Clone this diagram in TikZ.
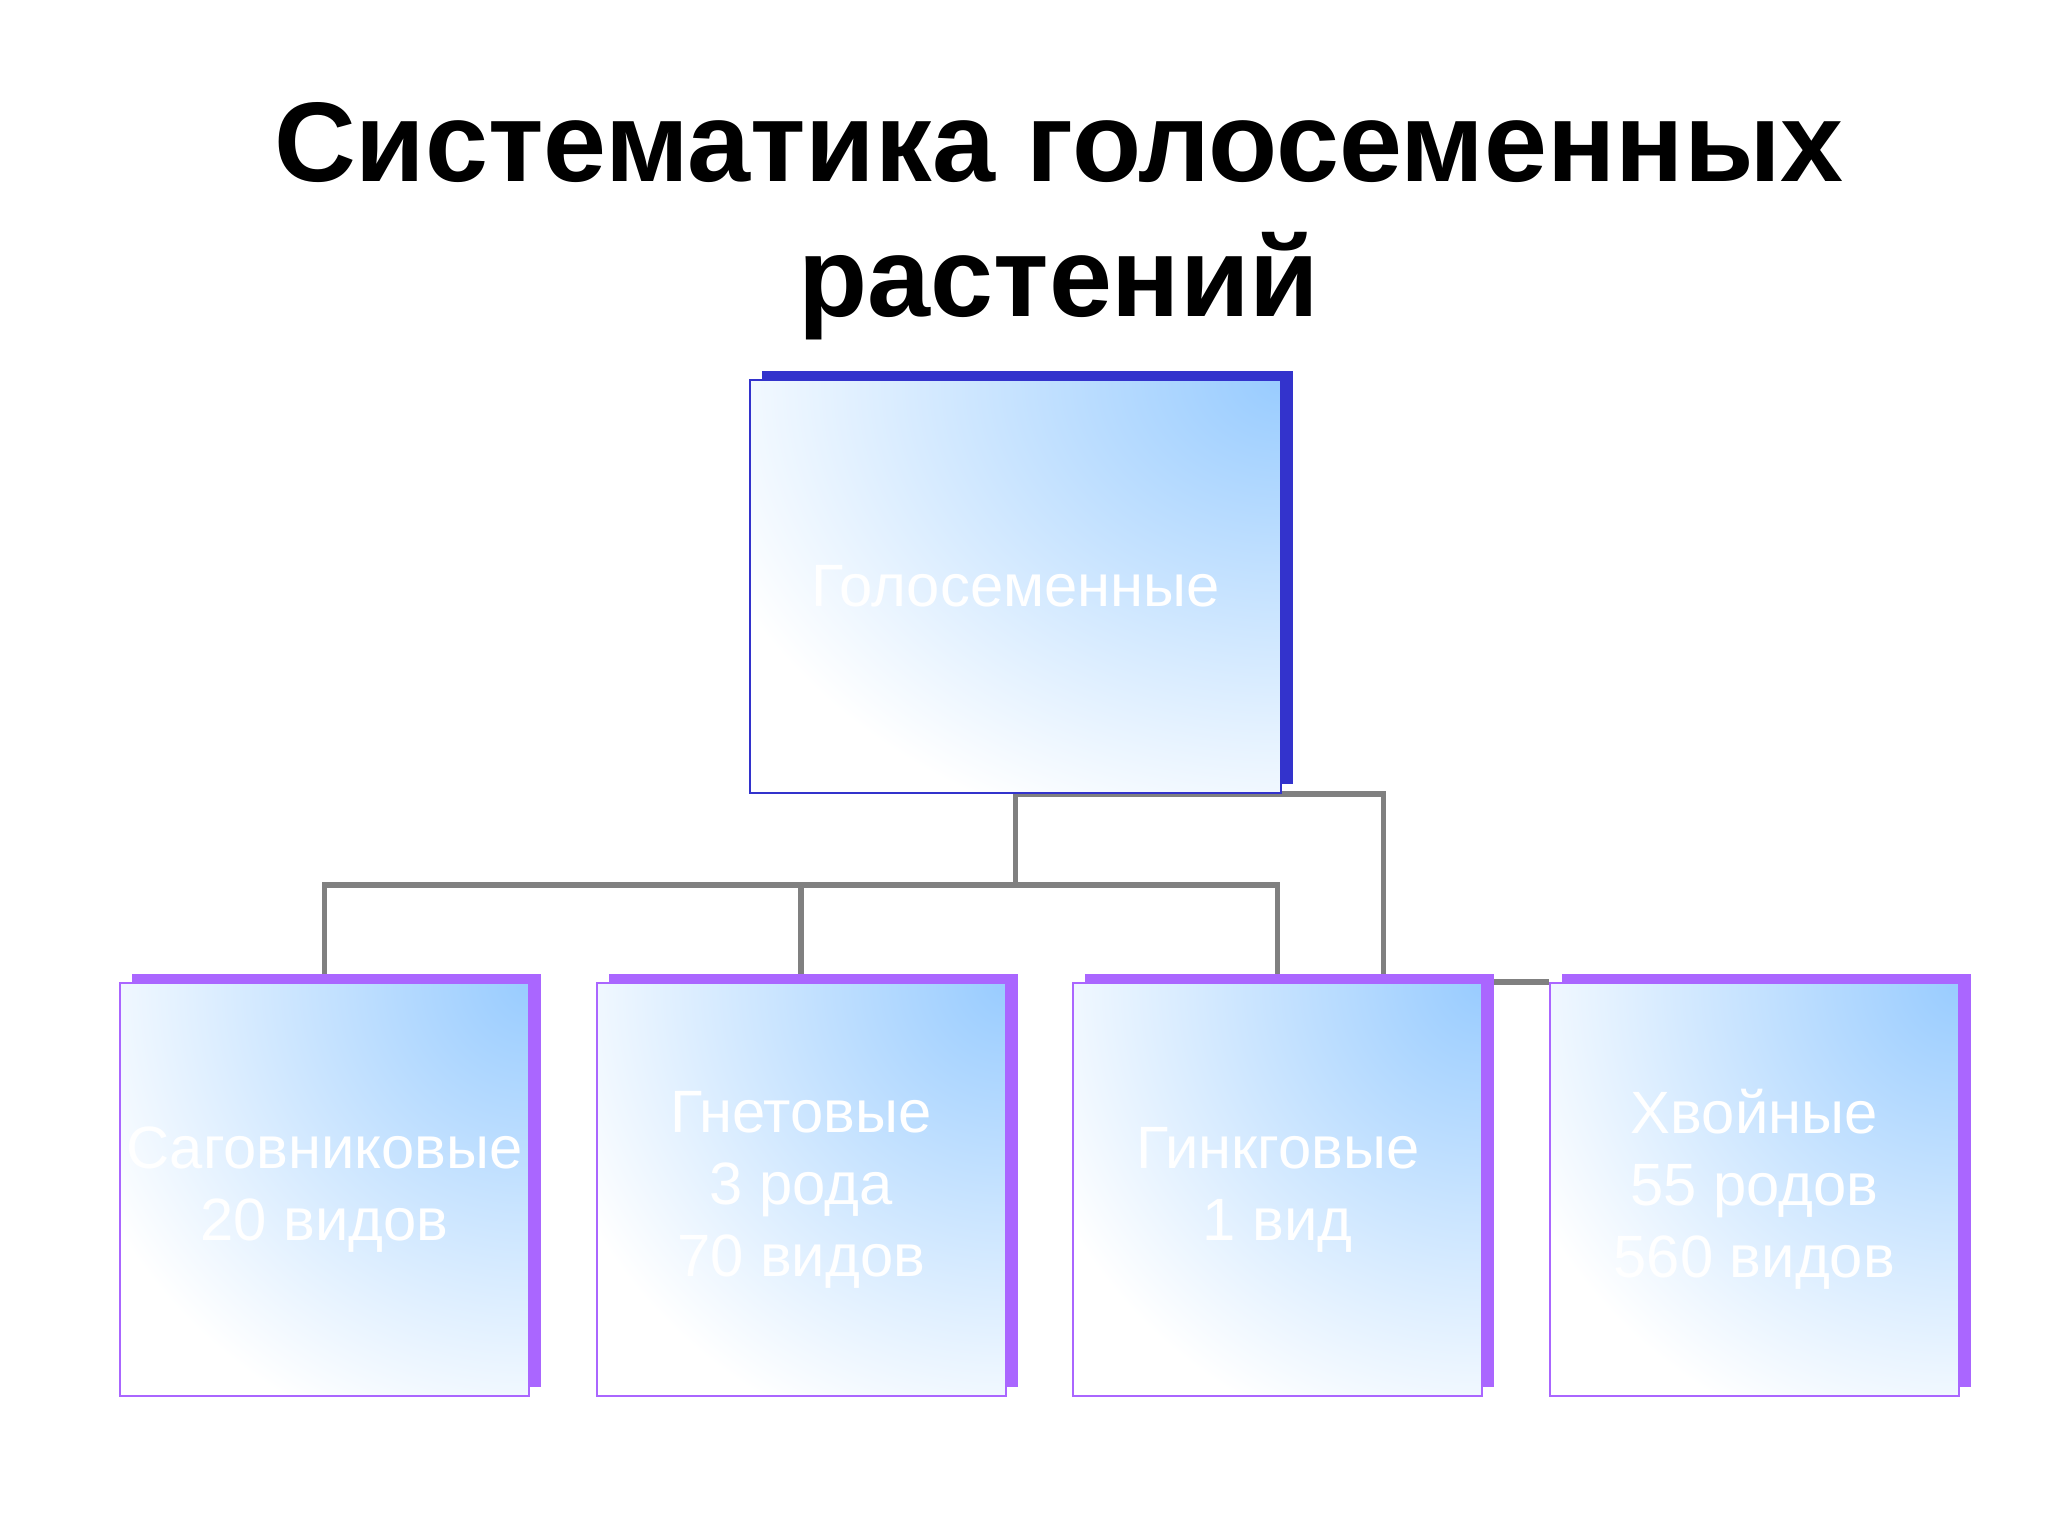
\documentclass[tikz,border=0pt]{standalone}
\usepackage{fontspec}
\setmainfont{Liberation Sans}
\usetikzlibrary{positioning, shadows, backgrounds}
\definecolor{rootedge}{RGB}{51,51,204}
\definecolor{taxonedge}{RGB}{170,102,255}
\definecolor{paleblue}{RGB}{153,204,255}
\definecolor{linkgray}{RGB}{128,128,128}
\tikzset{
node distance=0.655cm, % gap between the lower boxes
card/.style={line width=0.6pt, fill=white, text=white, inner sep=0pt, minimum height=4.13cm, align=center,
  font=\fontsize{17}{20.5}\selectfont}, % common look of every box
taxon/.style={card, draw=taxonedge, minimum width=4.09cm,
  path picture={\shade[inner color=paleblue, outer color=white] (path picture bounding box.north east) circle (4.8cm);},
  general shadow={shadow xshift=0.12cm, shadow yshift=0.09cm, fill=taxonedge}},
root/.style={card, draw=rootedge, minimum width=5.31cm,
  path picture={\shade[inner color=paleblue, outer color=white] (path picture bounding box.north east) ellipse (6.1cm and 4.8cm);},
  general shadow={shadow xshift=0.12cm, shadow yshift=0.09cm, fill=rootedge}},
link/.style={draw=linkgray, line width=1.5pt}, % grey connectors
heading/.style={font=\fontsize{32.2}{39}\selectfont\bfseries, anchor=base},
}
\begin{document}
\begin{tikzpicture}
\useasboundingbox (0,0) rectangle (20.48,-15.36);

\node[heading] (ttl1) at (10.59,-1.82) {Систематика голосеменных};
\node[heading] (ttl2) at (10.59,-3.17) {растений};

\node[root] (gym) at (10.155,-5.865) {Голосеменные};

\node[taxon] (cyc) at (3.245,-11.895) {Саговниковые\\20 видов};
\node[taxon, right=of cyc] (gne) {Гнетовые\\3 рода\\70 видов};
\node[taxon, right=of gne] (gin) {Гинкговые\\1 вид};
\node[taxon, right=of gin] (con) {Хвойные\\55 родов\\560 видов};

\begin{scope}[on background layer]
\draw[link] (gym.south) -- ++(0,-0.91) coordinate (hub);
\draw[link] (hub) -| (cyc.north);
\draw[link] (hub) -| (gne.north);
\draw[link] (hub) -| (gin.north);
\draw[link] (gym.south) -- ++(3.68,0) |- (con.north west);
\end{scope}

\end{tikzpicture}
\end{document}
